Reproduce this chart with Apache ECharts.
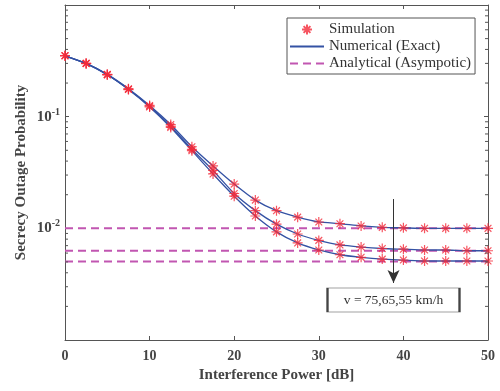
<!DOCTYPE html>
<html><head><meta charset="utf-8">
<script src="https://cdn.jsdelivr.net/npm/echarts@6/dist/echarts.min.js"></script>
<style>html,body{margin:0;padding:0;background:#fff}#c{width:500px;height:391px}</style>
</head><body><div id="c"></div>
<script>
// Interference power [dB]
const powerDb = [0,2.5,5,7.5,10,12.5,15,17.5,20,22.5,25,27.5,30,32.5,35,37.5,40,42.5,45,47.5,50];
// Secrecy outage probability for v = 75, 65, 55 km/h
const sop75 = [0.351,0.300,0.239,0.178,0.126,0.085,0.0538,0.0362,0.0249,0.0179,0.0144,0.0126,0.0114,0.0110,0.0105,0.0102,0.0101,0.0100,0.0100,0.0100,0.0100];
const sop65 = [0.351,0.300,0.238,0.176,0.124,0.082,0.0510,0.0330,0.0205,0.0144,0.0109,0.0089,0.0078,0.0071,0.0068,0.0066,0.0065,0.0064,0.0064,0.0063,0.0063];
const sop55 = [0.351,0.299,0.237,0.175,0.122,0.080,0.0496,0.0307,0.0194,0.0129,0.0093,0.0074,0.0064,0.0058,0.0055,0.0053,0.0052,0.0051,0.0051,0.0051,0.0051];
// Asymptotic floors
const asymptotes = [0.0100, 0.0063, 0.00505];
// Axis ticks
const xTickValues = [0,10,20,30,40,50];
const yMin = 0.001, yMax = 1;
const minorMantissa = [2,3,4,5,6,7,8,9];
const decades = [0.001, 0.01, 0.1];
// Annotation
const annotText = 'v = 75,65,55 km/h';
const arrowX = 38.83, arrowFrom = 0.0183, arrowTo = 0.00324, boxY = 0.00228;

const serif = 'Liberation Serif';
const axisGray = '#555';
const labelGray = '#444';
const simColor = '#f42a3a';
const numColor = '#3452a4';
const asymColor = '#c156b1';
const starPath = 'path://M5,0L5,10M0,5L10,5M1.6,1.6L8.4,8.4M1.6,8.4L8.4,1.6';

const minorTicks = [];
decades.forEach(d => minorMantissa.forEach(m => minorTicks.push([0, m * d])));

function pairs(ys){ return powerDb.map((x,i)=>[x, ys[i]]); }

const series = [];
asymptotes.forEach((a, i) => {
  const s = {
    name: 'Analytical (Asympotic)', type: 'line', symbol: 'none', z: 2,
    data: [[powerDb[0], a], [powerDb[powerDb.length-1], a]],
    lineStyle: { color: asymColor, width: 2, type: [8, 5] },
    itemStyle: { color: asymColor }
  };
  if (i === 0) {
    s.markLine = {
      silent: true, symbol: ['none', 'arrow'], symbolSize: [9, 13],
      label: { show: false },
      lineStyle: { color: '#333', width: 1, type: 'solid' },
      data: [[{ coord: [arrowX, arrowFrom] }, { coord: [arrowX, arrowTo] }]]
    };
    s.markPoint = {
      silent: true, symbol: 'rect', symbolSize: [132, 24],
      itemStyle: { color: '#fff', borderColor: '#444', borderWidth: 1 },
      label: { show: true, position: 'inside', formatter: annotText, color: '#333', fontFamily: serif, fontSize: 13.5 },
      data: [{ coord: [arrowX, boxY] }]
    };
  }
  series.push(s);
});
[sop75, sop65, sop55].forEach(ys => {
  series.push({
    name: 'Numerical (Exact)', type: 'line', symbol: 'none', z: 3,
    smooth: 0.2,
    data: pairs(ys),
    lineStyle: { color: numColor, width: 1.3 },
    itemStyle: { color: numColor }
  });
});
[sop75, sop65, sop55].forEach(ys => {
  series.push({
    name: 'Simulation', type: 'scatter', symbol: starPath, symbolSize: 10, z: 4,
    data: pairs(ys),
    itemStyle: { color: simColor, borderColor: simColor, borderWidth: 1.2 }
  });
});
series.push({
  name: 'minor', type: 'custom', silent: true, z: 5,
  data: minorTicks,
  renderItem: function (params, api) {
    const v = api.value(1);
    const pL = api.coord([0, v]);
    const pR = api.coord([50, v]);
    return { type: 'group', children: [
      { type: 'line', shape: { x1: pL[0], y1: pL[1], x2: pL[0] + 3, y2: pL[1] }, style: { stroke: axisGray, lineWidth: 1 } },
      { type: 'line', shape: { x1: pR[0] - 3, y1: pR[1], x2: pR[0], y2: pR[1] }, style: { stroke: axisGray, lineWidth: 1 } }
    ]};
  }
});

const chart = echarts.init(document.getElementById('c'), null, { renderer: 'canvas' });
chart.setOption({
  animation: false,
  grid: { left: 65, right: 12, top: 5, bottom: 51, show: false },
  legend: {
    data: [
      { name: 'Simulation' },
      { name: 'Numerical (Exact)', itemStyle: { opacity: 0 } },
      { name: 'Analytical (Asympotic)', itemStyle: { opacity: 0 } }
    ],
    orient: 'vertical', left: 287, top: 18,
    itemWidth: 34, itemHeight: 10, itemGap: 2,
    padding: [4, 4, 3, 2],
    backgroundColor: '#fff', borderColor: axisGray, borderWidth: 1,
    textStyle: { fontFamily: serif, fontSize: 15, color: '#333', lineHeight: 15 }
  },
  xAxis: [{
    type: 'value', min: 0, max: 50, interval: 10,
    name: 'Interference Power [dB]', nameLocation: 'middle', nameGap: 28, nameMoveOverlap: false,
    nameTextStyle: { fontFamily: serif, fontWeight: 'bold', fontSize: 15, color: labelGray },
    axisLine: { show: true, lineStyle: { color: axisGray, width: 1 } },
    axisTick: { show: true, inside: true, length: 4, lineStyle: { color: axisGray } },
    axisLabel: { fontFamily: serif, fontWeight: 'bold', fontSize: 14, color: labelGray, margin: 9 },
    splitLine: { show: false }
  }, {
    type: 'value', min: 0, max: 50, interval: 10, position: 'top',
    axisLine: { show: true, onZero: false, lineStyle: { color: axisGray, width: 1 } },
    axisTick: { show: true, inside: true, length: 4, lineStyle: { color: axisGray } },
    axisLabel: { show: false }, splitLine: { show: false }
  }],
  yAxis: [{
    type: 'log', logBase: 10, min: yMin, max: yMax,
    name: 'Secrecy Outage Probability', nameLocation: 'middle', nameGap: 36, nameMoveOverlap: false,
    nameTextStyle: { fontFamily: serif, fontWeight: 'bold', fontSize: 15, color: labelGray },
    axisLine: { show: true, onZero: false, lineStyle: { color: axisGray, width: 1 } },
    axisTick: { show: true, inside: true, length: 4, lineStyle: { color: axisGray } },
    axisLabel: {
      fontFamily: serif, fontWeight: 'bold', fontSize: 14, color: labelGray, margin: 5,
      formatter: function (v) {
        const e = Math.round(Math.log10(v));
        if (e === -1 || e === -2) return '{b|10}{s|' + e + '}';
        return '';
      },
      rich: {
        b: { fontFamily: serif, fontWeight: 'bold', fontSize: 15, color: labelGray },
        s: { fontFamily: serif, fontWeight: 'bold', fontSize: 10, color: labelGray, padding: [0, 0, 9, 0] }
      }
    },
    splitLine: { show: false }
  }, {
    type: 'log', logBase: 10, min: yMin, max: yMax, position: 'right',
    axisLine: { show: true, onZero: false, lineStyle: { color: axisGray, width: 1 } },
    axisTick: { show: true, inside: true, length: 4, lineStyle: { color: axisGray } },
    axisLabel: { show: false }, splitLine: { show: false }
  }],
  series: series
});
</script></body></html>
